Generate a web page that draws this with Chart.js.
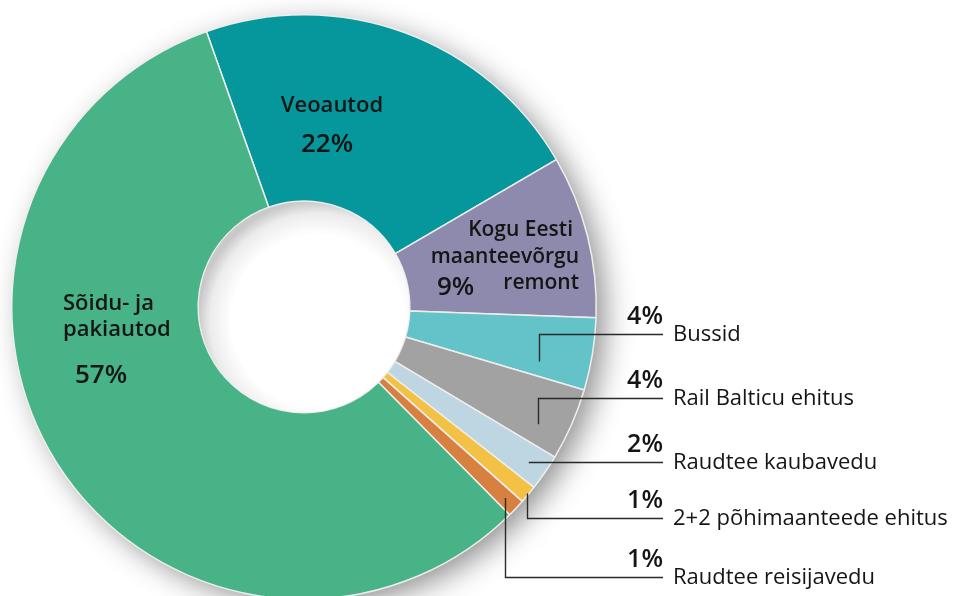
<!DOCTYPE html>
<html>
<head>
<meta charset="utf-8">
<script src="https://cdn.jsdelivr.net/npm/chart.js@4.4.0/dist/chart.umd.min.js"></script>
<style>
  html, body { margin: 0; padding: 0; background: #fff; overflow: hidden; }
  #wrap { position: relative; width: 959px; height: 600px; }
</style>
</head>
<body>
<div id="wrap"><canvas id="chart" width="959" height="600"></canvas></div>
<script>
// Andmed (kellaosuti suunas, alates Veoautodest)
const categories = ['Veoautod', 'Kogu Eesti maanteevõrgu remont', 'Bussid', 'Rail Balticu ehitus',
  'Raudtee kaubavedu', '2+2 põhimaanteede ehitus', 'Raudtee reisijavedu', 'Sõidu- ja pakiautod'];
const shares = [22, 9, 4, 4, 2, 1, 1, 57];
const sliceColors = ['#06979c', '#8d8aae', '#63c3c9', '#a2a2a2', '#bed6e2', '#f3c244', '#d8803f', '#47b386'];

// sildid viikudega (indeks andmetes)
const calloutIdx = [2, 3, 4, 5, 6];

const TEXT = '#151515';
const FONT = '"Open Sans", "Noto Sans", sans-serif';

// --- varjud ja auk ---
const shadowPlugin = {
  id: 'ringShadow',
  beforeDatasetsDraw(chart) {
    const arc = chart.getDatasetMeta(0).data[0];
    const { x, y, outerRadius } = arc.getProps(['x', 'y', 'outerRadius'], true);
    const ctx = chart.ctx;
    ctx.save();
    ctx.shadowColor = 'rgba(0,0,0,0.45)';
    ctx.shadowBlur = 30;
    ctx.shadowOffsetX = 10;
    ctx.shadowOffsetY = 8;
    ctx.fillStyle = '#fff';
    ctx.beginPath();
    ctx.arc(x, y, outerRadius - 2, 0, Math.PI * 2);
    ctx.fill();
    ctx.restore();
  },
  afterDatasetsDraw(chart) {
    const arc = chart.getDatasetMeta(0).data[0];
    const { x, y, innerRadius } = arc.getProps(['x', 'y', 'innerRadius'], true);
    const ctx = chart.ctx;
    ctx.save();
    ctx.beginPath();
    ctx.arc(x, y, innerRadius - 0.5, 0, Math.PI * 2);
    ctx.clip();
    const g = ctx.createRadialGradient(x + 14, y + 14, 0, x + 14, y + 14, innerRadius + 14);
    g.addColorStop(0, '#ffffff');
    g.addColorStop(0.72, '#ffffff');
    g.addColorStop(0.9, '#ececec');
    g.addColorStop(1, '#c9c9c9');
    ctx.fillStyle = g;
    ctx.fillRect(x - innerRadius, y - innerRadius, innerRadius * 2, innerRadius * 2);
    ctx.restore();
  }
};

// --- tekstid ---
const labelPlugin = {
  id: 'labels',
  afterDraw(chart) {
    const ctx = chart.ctx;
    const meta = chart.getDatasetMeta(0);
    const { x: cx, y: cy, outerRadius: R } = meta.data[0].getProps(['x', 'y', 'outerRadius'], true);
    ctx.save();
    ctx.fillStyle = TEXT;
    ctx.textBaseline = 'middle';

    // Veoautod
    ctx.textAlign = 'center';
    ctx.font = '600 22px ' + FONT;
    ctx.fillText(categories[0], cx + 28, cy - 201);
    ctx.font = '600 26px ' + FONT;
    ctx.fillText(shares[0] + '%', cx + 23, cy - 162);

    // Kogu Eesti maanteevõrgu remont
    ctx.textAlign = 'right';
    ctx.font = '600 21px ' + FONT;
    ctx.fillText('Kogu Eesti', cx + 269, cy - 77);
    ctx.fillText('maanteevõrgu', cx + 275, cy - 50);
    ctx.fillText('remont', cx + 275, cy - 24);
    ctx.textAlign = 'left';
    ctx.font = '600 26px ' + FONT;
    ctx.fillText(shares[1] + '%', cx + 133, cy - 19);

    // Sõidu- ja pakiautod
    ctx.font = '600 22px ' + FONT;
    ctx.fillText('Sõidu- ja', cx - 241, cy - 3);
    ctx.fillText('pakiautod', cx - 241, cy + 23);
    ctx.font = '600 26px ' + FONT;
    ctx.fillText(shares[7] + '%', cx - 229, cy + 69);

    // viigud: t = koht lõigu sees (0..1), rf = raadiuse osa
    const rowY = [334, 398, 461.5, 518, 577];
    const t = [0.76, 0.7, 0.5, 0.5, 0.5];
    const rf = [0.826, 0.897, 0.935, 0.995, 0.95];
    const lineEnd = 663;
    ctx.strokeStyle = '#2a2a2a';
    ctx.lineWidth = 1.4;
    calloutIdx.forEach((i, k) => {
      const a = meta.data[i].getProps(['startAngle', 'endAngle'], true);
      const ang = a.startAngle + (a.endAngle - a.startAngle) * t[k];
      const ax = cx + Math.cos(ang) * R * rf[k];
      const ay = cy + Math.sin(ang) * R * rf[k];
      ctx.beginPath();
      ctx.moveTo(Math.round(ax) + 0.5, ay);
      ctx.lineTo(Math.round(ax) + 0.5, Math.round(rowY[k]) + 0.5);
      ctx.lineTo(lineEnd, Math.round(rowY[k]) + 0.5);
      ctx.stroke();

      ctx.textAlign = 'right';
      ctx.font = '600 25px ' + FONT;
      ctx.fillText(shares[i] + '%', lineEnd, rowY[k] - 17);
      ctx.textAlign = 'left';
      ctx.font = '500 22px ' + FONT;
      ctx.fillText(categories[i], lineEnd + 10, rowY[k] + 1);
    });
    ctx.restore();
  }
};

new Chart(document.getElementById('chart'), {
  type: 'doughnut',
  data: {
    labels: categories,
    datasets: [{
      data: shares,
      backgroundColor: sliceColors,
      borderColor: '#eeeeee',
      borderWidth: 1.5
    }]
  },
  options: {
    responsive: false,
    animation: false,
    events: [],
    rotation: -19.5,
    cutout: '36.2%',
    layout: { padding: { left: 11, top: 14, right: 362, bottom: 0 } },
    plugins: { legend: { display: false }, tooltip: { enabled: false } }
  },
  plugins: [shadowPlugin, labelPlugin]
});
</script>
</body>
</html>
